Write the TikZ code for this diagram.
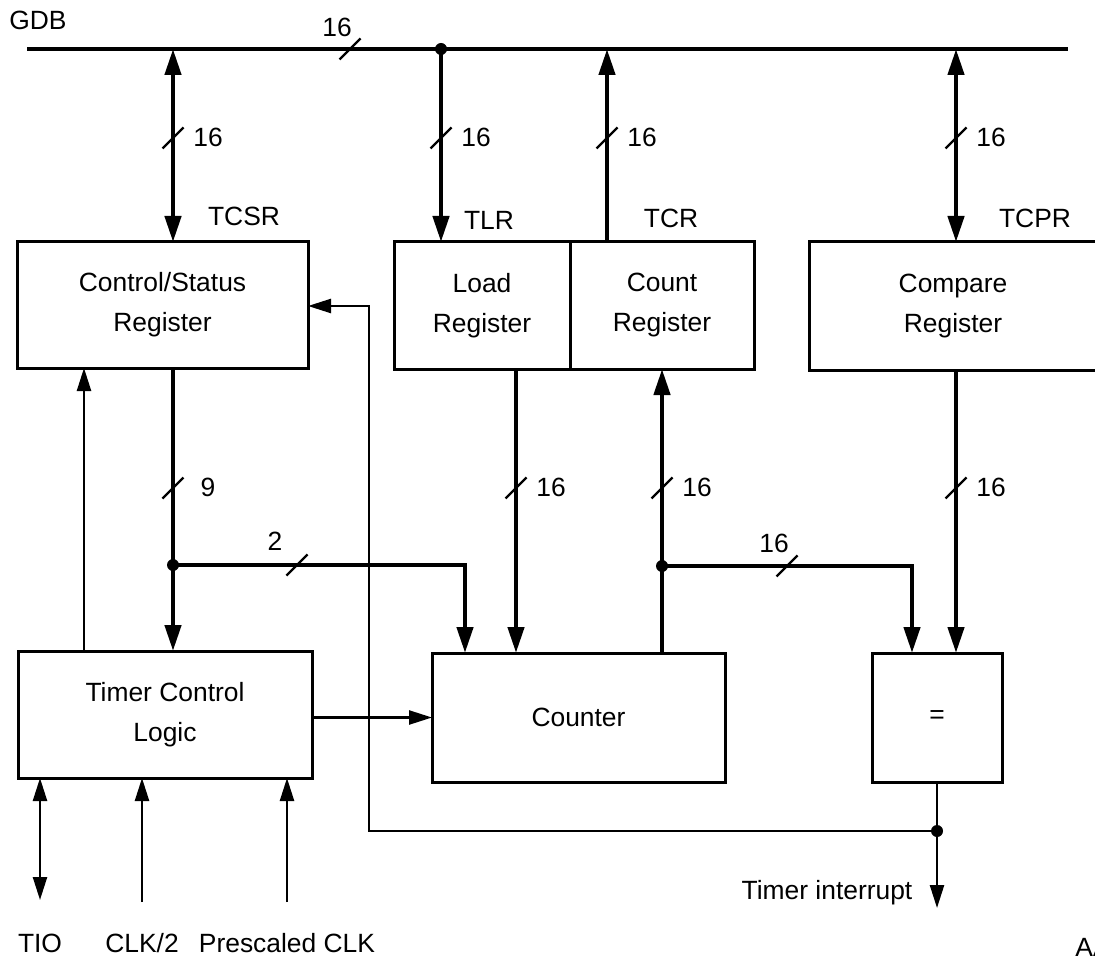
\documentclass[tikz,border=0pt]{standalone}
\usepackage{fontspec}
\setmainfont{Liberation Sans}
\usetikzlibrary{arrows.meta}

\tikzset{
  reg/.style={draw,line width=1.5pt,inner sep=0pt,outer sep=0pt,align=center},
  wide/.style={line width=2.2pt,>={Triangle[length=13pt,width=8pt]}},
  narrow/.style={line width=1.2pt,>={Triangle[length=11.5pt,width=7pt]}},
  wbar/.pic={\draw[line width=1.1pt] (-5.25pt,-5.25pt) -- (5.25pt,5.25pt);},
  jdot/.style={circle,fill,inner sep=0pt,minimum size=6pt}
}

\begin{document}
\begin{tikzpicture}[x=0.5pt,y=-0.5pt,font=\fontsize{13.2}{20}\selectfont]
\useasboundingbox (0,0) rectangle (1095,962);

\node[reg,minimum width=145.5pt,minimum height=63pt] (csr) at (162.5,305) {Control/Status\\Register};
\node[reg,minimum width=88pt,minimum height=63.5pt] (tlr) at (482,305.5) {Load\\Register};
\node[reg,minimum width=92pt,minimum height=63.5pt] (tcr) at (662,305.5) {Count\\Register};
\node[reg,minimum width=144pt,minimum height=64pt] (tcpr) at (953,306) {Compare\\Register};
\node[reg,minimum width=147pt,minimum height=63.5pt] (tcl) at (165,714.5) {Timer Control\\Logic};
\node[reg,minimum width=146.5pt,minimum height=64.5pt] (cnt) at (578.5,717.5) {Counter};
\node[reg,minimum width=65pt,minimum height=64.5pt] (cmp) at (937,717.5) {=};

\node (ncsr) at (244,216) {TCSR};
\node (ntlr) at (489,220) {TLR};
\node (ntcr) at (671,218) {TCR};
\node (ntcpr) at (1035,218) {TCPR};

% global data bus
\coordinate (gdbl) at (27,49);
\coordinate (gdbr) at (1068,49);
\draw[wide] (gdbl) -- (gdbr);
\node (ngdb) at (38,20) {GDB};
\coordinate (b1) at (173,49);
\coordinate (b2) at (441,49);
\coordinate (b3) at (607,49);
\coordinate (b4) at (956,49);
\node[jdot] (d1) at (b2) {};

\draw[wide,<->] (b1) -- (b1 |- csr.north);
\draw[wide,->] (b2) -- (b2 |- tlr.north);
\draw[wide,->] (b3 |- tcr.north) -- (b3);
\draw[wide,<->] (b4) -- (b4 |- tcpr.north);

% internal buses
\coordinate (j1) at (173,565);
\coordinate (j2) at (662,566);
\coordinate (c1) at (465,565);
\coordinate (c2) at (912,566);
\draw[wide,->] (csr.south -| j1) -- (tcl.north -| j1);
\draw[wide,->] (j1) -- (c1) -- (c1 |- cnt.north);
\draw[wide,->] (tlr.south -| 516,0) -- (cnt.north -| 516,0);
\draw[wide,->] (cnt.north -| j2) -- (tcr.south -| j2);
\draw[wide,->] (j2) -- (c2) -- (c2 |- cmp.north);
\draw[wide,->] (tcpr.south -| b4) -- (cmp.north -| b4);
\node[jdot] (d2) at (j1) {};
\node[jdot] (d3) at (j2) {};

\foreach \x/\y/\w [count=\i] in {173/138/16,441/138/16,607/138/16,956/138/16,
    173/488/9,516/488/16,662/488/16,956/488/16}{
  \pic at (\x,\y) {wbar};
  \node (w\i) at (\x+35,\y-1) {\w};
}
\foreach \x/\y/\lx/\ly/\w [count=\i] in {350/49/337/27/16,297/565/275/541/2,787/566/774/543/16}{
  \pic at (\x,\y) {wbar};
  \node (h\i) at (\lx,\ly) {\w};
}

% control lines
\coordinate (j3) at (937,831);
\coordinate (f1) at (369,831);
\coordinate (f2) at (369,306);
\coordinate (irq) at (937,908);
\draw[narrow,->] (tcl.north -| 84,0) -- (csr.south -| 84,0);
\draw[narrow,->] (tcl.east |- cnt.west) -- (cnt.west);
\draw[narrow] (cmp.south) -- (j3);
\draw[narrow,->] (j3) -- (irq);
\draw[narrow,->] (j3) -- (f1) -- (f2) -- (csr.east |- f2);
\node[jdot] (d4) at (j3) {};
\node (nirq) at (827,893) {Timer interrupt};

\coordinate (tio) at (40,900);
\coordinate (clk) at (142,902);
\coordinate (pclk) at (287,902);
\draw[narrow,<->] (tcl.south -| tio) -- (tio);
\draw[narrow,->] (clk) -- (tcl.south -| clk);
\draw[narrow,->] (pclk) -- (tcl.south -| pclk);
\node (ntio) at (40,943) {TIO};
\node (nclk) at (142,943) {CLK/2};
\node (npclk) at (287,943) {Prescaled CLK};
\node[anchor=west,inner sep=0pt] (nfig) at (1075,947) {AA};
\end{tikzpicture}
\end{document}
